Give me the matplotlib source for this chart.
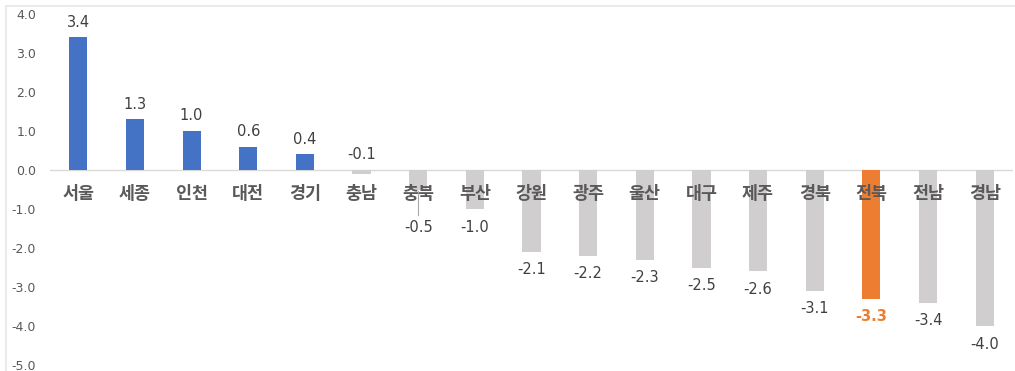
import matplotlib
matplotlib.use("Agg")
import matplotlib.pyplot as plt
from matplotlib.lines import Line2D

plt.rcParams['font.family'] = ['Noto Sans CJK KR', 'DejaVu Sans']

regions = ['서울', '세종', '인천', '대전', '경기', '충남', '충북', '부산', '강원',
           '광주', '울산', '대구', '제주', '경북', '전북', '전남', '경남']
values = [3.4, 1.3, 1.0, 0.6, 0.4, -0.1, -0.5, -1.0, -2.1,
          -2.2, -2.3, -2.5, -2.6, -3.1, -3.3, -3.4, -4.0]
highlight = '전북'
y_ticks = [4.0, 3.0, 2.0, 1.0, 0.0, -1.0, -2.0, -3.0, -4.0, -5.0]

BLUE = '#4472C4'
GRAY = '#D0CECE'
ORANGE = '#ED7D31'
TEXT = '#404040'
AXIS_TEXT = '#595959'

W, H = 1015, 371
fig = plt.figure(figsize=(W / 100, H / 100), dpi=100)
ax = fig.add_axes([50 / W, 1 - 365 / H, 963 / W, (365 - 14) / H])

x = list(range(len(regions)))
colors = []
for r, v in zip(regions, values):
    if r == highlight:
        colors.append(ORANGE)
    elif v >= 0:
        colors.append(BLUE)
    else:
        colors.append(GRAY)

ax.bar(x, values, width=0.32, color=colors, zorder=2)

ax.set_xlim(-0.5, len(regions) - 0.5)
ax.set_ylim(-5.0, 4.0)
ax.set_yticks(y_ticks)
ax.set_yticklabels([f'{t:.1f}' for t in y_ticks], fontsize=9, color=AXIS_TEXT,
                   family=['DejaVu Sans'])
ax.tick_params(axis='y', length=0, pad=10)
ax.set_xticks([])
for s in ax.spines.values():
    s.set_visible(False)
ax.axhline(0, color='#D9D9D9', lw=1.0, zorder=1)

# category names sit just under the zero line
for xi, r in zip(x, regions):
    ax.annotate(r, (xi, 0), xytext=(0, -17.5), textcoords='offset points',
                ha='center', va='center', fontsize=12.5, color=AXIS_TEXT,
                fontweight='bold', zorder=3)

# value labels
for xi, r, v in zip(x, regions, values):
    col = ORANGE if r == highlight else TEXT
    weight = 'bold' if r == highlight else 'normal'
    anchor = v
    if v >= 0:
        off = 11
    else:
        off = -13
    if r == '충남':
        # tiny bar: label goes above the zero line
        anchor, off = 0, 11
    if r == '충북':
        # pushed below the category name, with a leader line
        off = -27
        ax.plot([xi, xi], [v - 0.05, v - 0.65], color='#A6A6A6', lw=0.8, zorder=3)
    ax.annotate(f'{v:.1f}', (xi, anchor), xytext=(0, off), textcoords='offset points',
                ha='center', va='center', fontsize=10.5, color=col,
                fontweight=weight, family=['DejaVu Sans'], zorder=3)

# outer chart frame (top and left edges)
fig.add_artist(Line2D([6 / W, 1.0], [1 - 6 / H, 1 - 6 / H], color='#E6E6E6', lw=1.2,
                      transform=fig.transFigure))
fig.add_artist(Line2D([6 / W, 6 / W], [0.0, 1 - 6 / H], color='#E6E6E6', lw=1.2,
                      transform=fig.transFigure))

fig.savefig('out.png', dpi=100)
